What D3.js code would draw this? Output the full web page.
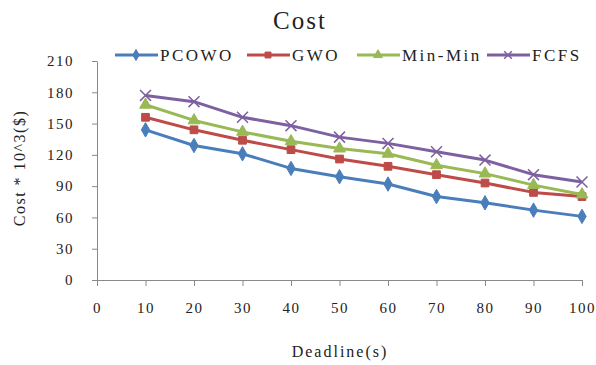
<!DOCTYPE html>
<html>
  <head>
    <meta charset="utf-8">
    <script src="https://d3js.org/d3.v7.min.js"></script>
    <style>
      body { margin: 0; background: white; font-family: "Liberation Serif", "DejaVu Serif", serif; }
      .axis path, .axis line { stroke: #8a8a8a; }
      .axis text { font-family: "Liberation Serif", serif; font-size: 15px; letter-spacing: 1.5px; fill: #222; }
    </style>
  </head>
  <body>
    <script>
      var deadlines = [10, 20, 30, 40, 50, 60, 70, 80, 90, 100];
      var seriesNames = ["PCOWO", "GWO", "Min-Min", "FCFS"];
      var pcowo  = [144, 129, 121, 107, 99, 92, 80, 74, 67, 61];
      var gwo    = [156, 144, 134, 125, 116, 109, 101, 93, 84, 80];
      var minmin = [168, 153, 142, 133, 126, 121, 110, 102, 91, 82];
      var fcfs   = [177, 171, 156, 148, 137, 131, 123, 115, 101, 94];
      var xTicks = [0, 10, 20, 30, 40, 50, 60, 70, 80, 90, 100];
      var yTicks = [0, 30, 60, 90, 120, 150, 180, 210];

      var colors = ["#4a7ebb", "#be4b48", "#98b954", "#7d60a0"];
      var shapes = [d3.symbolDiamond, d3.symbolSquare, d3.symbolTriangle, d3.symbolTimes];
      var allValues = [pcowo, gwo, minmin, fcfs];

      var width = 596, height = 365;
      var svg = d3.select("body").append("svg")
        .attr("width", width)
        .attr("height", height);

      var x = d3.scaleLinear().domain([0, 100]).range([97, 582]);
      var y = d3.scaleLinear().domain([0, 210]).range([280, 61]);

      // title
      svg.append("text")
        .attr("x", 300).attr("y", 29)
        .attr("text-anchor", "middle")
        .style("font-size", "25px")
        .style("letter-spacing", "2px")
        .style("fill", "#222")
        .text("Cost");

      // axes
      svg.append("g")
        .attr("class", "axis")
        .attr("transform", "translate(0,280)")
        .call(d3.axisBottom(x).tickValues(xTicks).tickSize(6).tickSizeOuter(0).tickPadding(16));

      svg.append("g")
        .attr("class", "axis")
        .attr("transform", "translate(97,0)")
        .call(d3.axisLeft(y).tickValues(yTicks).tickSize(5).tickSizeOuter(0).tickPadding(18));

      svg.selectAll(".axis .domain").attr("stroke", "#8a8a8a");

      // axis titles
      svg.append("text")
        .attr("x", 340).attr("y", 357)
        .attr("text-anchor", "middle")
        .style("font-size", "16px")
        .style("letter-spacing", "2px")
        .style("fill", "#222")
        .text("Deadline(s)");

      svg.append("text")
        .attr("transform", "translate(25,168) rotate(-90)")
        .attr("text-anchor", "middle")
        .style("font-size", "16px")
        .style("letter-spacing", "1.5px")
        .style("fill", "#222")
        .text("Cost * 10^3($)");

      // lines
      var line = d3.line()
        .x(function(d, i) { return x(deadlines[i]); })
        .y(function(d) { return y(d); });

      function marker(sel, s, size) {
        sel.attr("d", d3.symbol().type(shapes[s]).size(size))
          .attr("fill", s == 3 ? "none" : colors[s])
          .attr("stroke", colors[s])
          .attr("stroke-width", s == 3 ? 1.5 : 1);
      }

      allValues.forEach(function(vals, s) {
        var g = svg.append("g");
        g.append("path")
          .datum(vals)
          .attr("d", line)
          .attr("fill", "none")
          .attr("stroke", colors[s])
          .attr("stroke-width", 3)
          .attr("stroke-linejoin", "round");

        g.selectAll("path.m")
          .data(vals)
          .enter().append("path")
          .attr("class", "m")
          .attr("transform", function(d, i) {
            return "translate(" + x(deadlines[i]) + "," + y(d) + ")";
          })
          .call(marker, s, s == 3 ? 80 : 60);
      });

      // legend
      var legendX = [115, 247, 357, 487];
      seriesNames.forEach(function(name, s) {
        var lg = svg.append("g").attr("transform", "translate(" + legendX[s] + ",55)");
        lg.append("line")
          .attr("x1", 0).attr("x2", 43)
          .attr("stroke", colors[s])
          .attr("stroke-width", 3);
        lg.append("path")
          .attr("transform", "translate(21,0)")
          .call(marker, s, s == 3 ? 40 : 35);
        lg.append("text")
          .attr("x", 45).attr("y", 6)
          .style("font-size", "17px")
          .style("letter-spacing", "2.5px")
          .style("fill", "#222")
          .text(name);
      });
    </script>
  </body>
</html>
